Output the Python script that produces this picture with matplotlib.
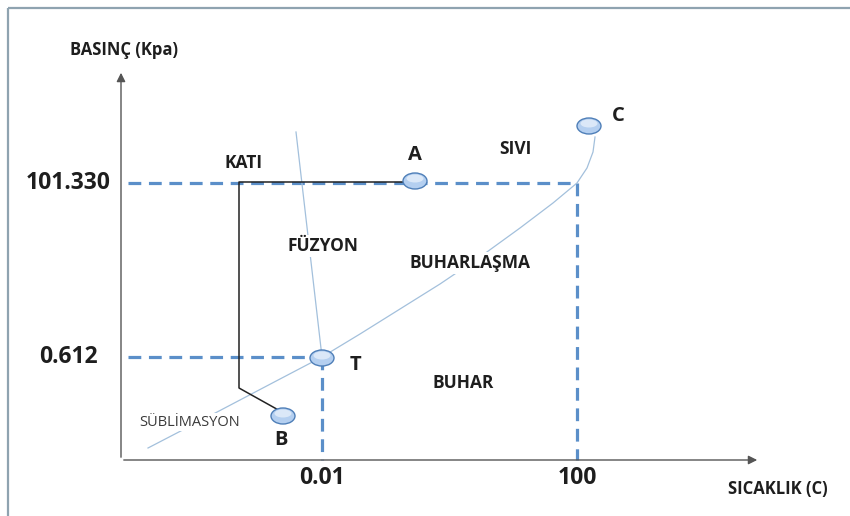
import matplotlib.pyplot as plt
from matplotlib.patches import Ellipse, Rectangle

# diagram units follow the picture (x to the right, y downward)
x_tick_pos = [322, 577]
x_tick_labels = ["0.01", "100"]
y_tick_pos = [183, 357]
y_tick_labels = ["101.330", "0.612"]

point_names = ["A", "T", "B", "C"]
point_x = [415, 322, 283, 589]
point_y = [181, 358, 416, 126]
label_dx = [0, 33, -2, 29]
label_dy = [-26, 7, 24, -10]

# sublimation + vaporization curve, through T up to the critical point C
curve_x = [148, 200, 240, 280, 322, 360, 400, 440, 480, 520, 553, 577, 587, 593, 595]
curve_y = [448, 421, 400, 379, 357, 334, 309, 284, 257, 228, 203, 183, 168, 152, 137]

# fusion line
fusion_x = [296, 322]
fusion_y = [132, 357]

# heating path A -> B
path_x = [415, 239, 239, 282]
path_y = [182, 182, 388, 412]

region_names = ["KATI", "SIVI", "FÜZYON", "BUHARLAŞMA", "BUHAR"]
region_x = [244, 515, 323, 470, 463]
region_y = [163, 149, 246, 263, 383]

origin = (121, 460)
y_axis_top = 70
x_axis_end = 760

dash_color = "#5b8fc9"
line_color = "#a3c0dc"
text_color = "#1e1e1e"
fonts = ["Open Sans", "DejaVu Sans"]

fig = plt.figure(figsize=(8.5, 5.16), dpi=100)
ax = fig.add_axes([0, 0, 1, 1])
ax.set_xlim(0, 850)
ax.set_ylim(516, 0)
ax.axis("off")

ax.add_patch(Rectangle((8, 8), 860, 520, fill=False, edgecolor="#8fa3b0", lw=1.6))

# axes with arrows
ax.annotate("", xy=(origin[0], y_axis_top), xytext=origin,
            arrowprops=dict(arrowstyle="-|>", color="#555555", lw=1.0, mutation_scale=13))
ax.annotate("", xy=(x_axis_end, origin[1]), xytext=origin,
            arrowprops=dict(arrowstyle="-|>", color="#555555", lw=1.0, mutation_scale=13))
ax.text(124, 50, "BASINÇ (Kpa)", ha="center", va="center", fontsize=12,
        fontweight="bold", color=text_color, family=fonts)
ax.text(778, 489, "SICAKLIK (C)", ha="center", va="center", fontsize=12,
        fontweight="bold", color=text_color, family=fonts)

# dashed guide lines
for xp, yp in zip(x_tick_pos[::-1], y_tick_pos):
    ax.plot([128, xp], [yp, yp], color=dash_color, lw=2.3, dashes=(4, 2.4), zorder=2)
    ax.plot([xp, xp], [yp, origin[1]], color=dash_color, lw=2.3, dashes=(4, 2.4), zorder=2)
for xp, xl in zip(x_tick_pos, x_tick_labels):
    ax.text(xp, 478, xl, ha="center", va="center", fontsize=16.5,
            fontweight="bold", color=text_color, family=fonts)
for yp, yl in zip(y_tick_pos, y_tick_labels):
    ax.text(68, yp, yl, ha="center", va="center", fontsize=16.5,
            fontweight="bold", color=text_color, family=fonts)

# phase boundaries
ax.plot(curve_x, curve_y, color=line_color, lw=0.9, zorder=3)
ax.plot(fusion_x, fusion_y, color=line_color, lw=0.9, zorder=3)

# path
ax.plot(path_x, path_y, color="#222222", lw=1.1, zorder=4)

# points
for name, px, py, dx, dy in zip(point_names, point_x, point_y, label_dx, label_dy):
    ax.add_patch(Ellipse((px, py), 24, 16, facecolor="#b4cff0", edgecolor="#4f7fb8",
                         lw=1.0, zorder=5))
    ax.add_patch(Ellipse((px, py - 2.5), 17, 8, facecolor="#dbe8f8", edgecolor="none",
                         zorder=5))
    ax.text(px + dx, py + dy, name, ha="center", va="center", fontsize=14.5,
            fontweight="bold", color=text_color, family=fonts, zorder=6)

for name, rx, ry in zip(region_names, region_x, region_y):
    ax.text(rx, ry, name, ha="center", va="center", fontsize=12.5,
            fontweight="bold", color=text_color, family=fonts, zorder=6,
            bbox=dict(boxstyle="square,pad=0.1", facecolor="white", edgecolor="none"))
ax.text(190, 422, "SÜBLİMASYON", ha="center", va="center", fontsize=10.5,
        color="#3a3a3a", family=fonts, zorder=6,
        bbox=dict(boxstyle="square,pad=0.1", facecolor="white", edgecolor="none"))

fig.savefig("out.png", dpi=100)
